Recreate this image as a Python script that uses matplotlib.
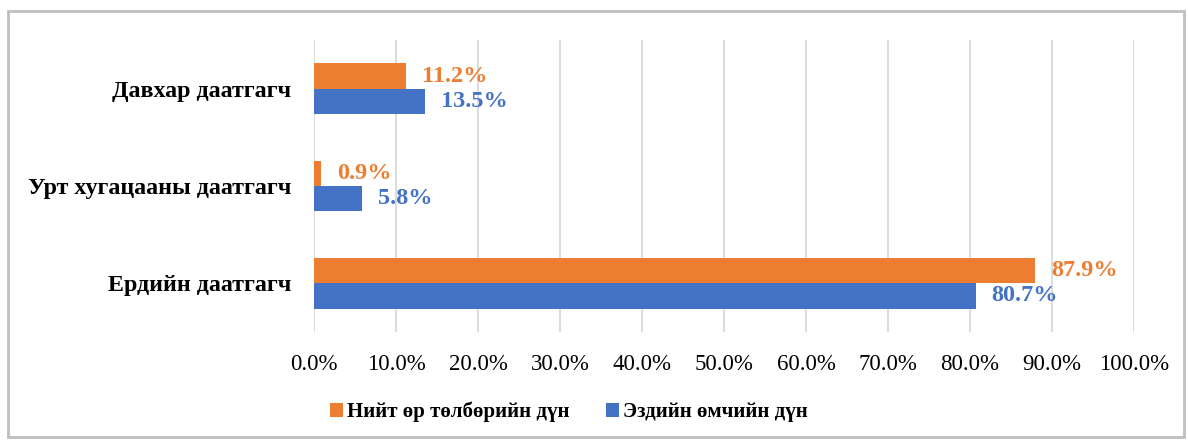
import matplotlib
matplotlib.use("Agg")
import matplotlib.pyplot as plt
import numpy as np
from matplotlib.patches import Rectangle
from matplotlib.ticker import FuncFormatter, MultipleLocator

categories = ["Ердийн даатгагч", "Урт хугацааны даатгагч", "Давхар даатгагч"]
debt = [87.9, 0.9, 11.2]      # Нийт өр төлбөрийн дүн
equity = [80.7, 5.8, 13.5]    # Эздийн өмчийн дүн
series_names = ["Нийт өр төлбөрийн дүн", "Эздийн өмчийн дүн"]
orange = "#ED7D31"
blue = "#4472C4"

plt.rcParams['font.family'] = ['Liberation Serif', 'DejaVu Serif']

fig = plt.figure(figsize=(11.88, 4.41), dpi=100)
W, H = 1188, 441
ax = fig.add_axes([314 / W, 1 - 332 / H, (1134 - 314) / W, (332 - 40) / H])

y = np.arange(len(categories))
h = 0.26
b1 = ax.barh(y + h / 2, debt, height=h, color=orange, label=series_names[0], zorder=3)
b2 = ax.barh(y - h / 2, equity, height=h, color=blue, label=series_names[1], zorder=3)

for bars, vals, col in [(b1, debt, orange), (b2, equity, blue)]:
    for bar, v in zip(bars, vals):
        ax.annotate(f"{v:.1f}%", (v, bar.get_y() + bar.get_height() / 2),
                    xytext=(16, 0), textcoords="offset pixels",
                    va="center", ha="left", color=col, fontsize=17.5, fontweight="bold")

ax.set_xlim(0, 100)
ax.set_ylim(-0.5, 2.5)
ax.xaxis.set_major_locator(MultipleLocator(10))
ax.xaxis.set_major_formatter(FuncFormatter(lambda v, p: f"{v:.1f}%"))
ax.set_yticks(y)
ax.set_yticklabels(categories, fontsize=17.3, fontweight="bold")
ax.tick_params(axis="x", labelsize=16.5, length=0, pad=16)
ax.tick_params(axis="y", length=0, pad=16.5)
ax.grid(axis="x", color="#D9D9D9", linewidth=1.3, zorder=0)
for s in ax.spines.values():
    s.set_visible(False)

fig.legend(handles=[b1, b2], labels=series_names, loc="center",
           bbox_to_anchor=(569 / W, 1 - 412 / H), ncol=2, frameon=False,
           prop={"size": 15, "weight": "bold"}, handlelength=0.6, handleheight=0.6,
           handletextpad=0.2, columnspacing=1.75)

fig.patches.append(Rectangle((8 / W, 1 - 437 / H), (1184 - 8) / W, (437 - 11) / H,
                             transform=fig.transFigure, fill=False,
                             edgecolor="#BFBFBF", linewidth=2))

fig.savefig("out.png", dpi=100, facecolor="white")
